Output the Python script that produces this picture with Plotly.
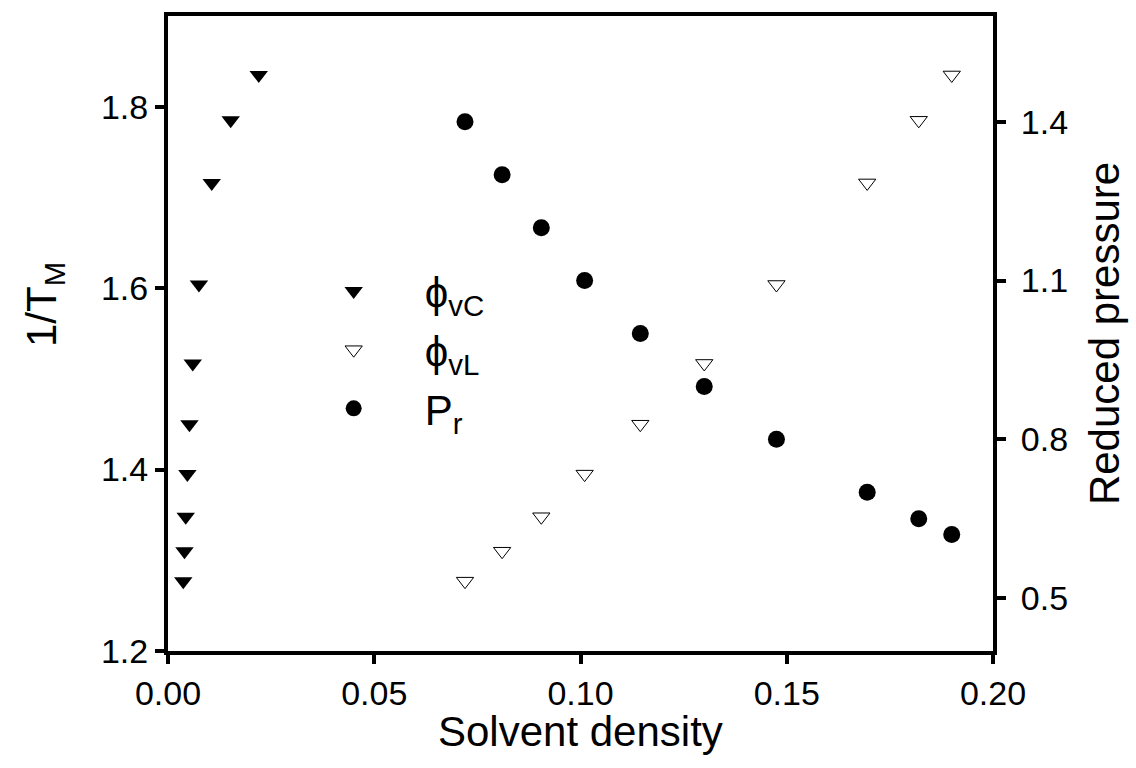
import plotly.graph_objects as go

# Data
phi_vC_x = [0.0037, 0.004, 0.0043, 0.0047, 0.0052, 0.006, 0.0075, 0.0106, 0.0152, 0.022]
inv_TM = [1.277, 1.310, 1.348, 1.395, 1.450, 1.517, 1.604, 1.716, 1.785, 1.835]
phi_vL_x = [0.072, 0.081, 0.0905, 0.101, 0.1145, 0.130, 0.1475, 0.1695, 0.182, 0.190]
rho_x = [0.072, 0.081, 0.0905, 0.101, 0.1145, 0.130, 0.1475, 0.1695, 0.182, 0.190]
P_r = [1.40, 1.30, 1.20, 1.10, 1.00, 0.90, 0.80, 0.70, 0.65, 0.62]

x_ticks = [0.00, 0.05, 0.10, 0.15, 0.20]
x_ticklabels = ["0.00", "0.05", "0.10", "0.15", "0.20"]
y_ticks = [1.2, 1.4, 1.6, 1.8]
y2_ticks = [0.5, 0.8, 1.1, 1.4]

x_title = "Solvent density"
y_title = "1/T<sub>M</sub>"
y2_title = "Reduced pressure"

FONT = "Liberation Sans, Arial, sans-serif"

fig = go.Figure()
fig.add_trace(go.Scatter(
    x=phi_vC_x, y=inv_TM, mode="markers", name="ϕ<sub>vC</sub>",
    marker=dict(symbol="triangle-down", size=16, color="black", line=dict(width=0)),
    legendgroup="a"))
fig.add_trace(go.Scatter(
    x=phi_vL_x, y=inv_TM, mode="markers", name="ϕ<sub>vL</sub>",
    marker=dict(symbol="triangle-down-open", size=15, color="black", line=dict(width=1)),
    legendgroup="b"))
fig.add_trace(go.Scatter(
    x=rho_x, y=P_r, mode="markers", name="P<sub>r</sub>", yaxis="y2",
    marker=dict(symbol="circle", size=17, color="black", line=dict(width=0)),
    legendgroup="c"))

axis_common = dict(showgrid=False, zeroline=False, showline=True, linecolor="black",
                   linewidth=4, ticks="outside", ticklen=9, tickwidth=4, tickcolor="black",
                   tickfont=dict(size=34, color="black", family=FONT))

fig.update_layout(
    width=1136, height=768,
    margin=dict(l=168, r=143, t=16, b=117),
    paper_bgcolor="white", plot_bgcolor="white",
    font=dict(family=FONT, color="black"),
    xaxis=dict(range=[0, 0.2], tickvals=x_ticks, ticktext=x_ticklabels, mirror=True,
               **axis_common),
    yaxis=dict(range=[1.2, 1.9], tickvals=y_ticks, tickformat=".1f",
               **axis_common),
    yaxis2=dict(range=[0.4, 1.6], tickvals=y2_ticks, tickformat=".1f", overlaying="y", side="right",
                ticklabelstandoff=8,
                title=dict(text=y2_title, font=dict(size=42), standoff=24),
                **axis_common),
    showlegend=True,
    legend=dict(x=0.139, y=0.62, xanchor="left", yanchor="top", bgcolor="rgba(0,0,0,0)",
                font=dict(size=42, family=FONT), tracegroupgap=1, itemwidth=132),
    annotations=[
        dict(text=x_title, xref="paper", yref="paper", x=0.5, y=-0.127,
             xanchor="center", yanchor="middle", showarrow=False,
             font=dict(size=42, family=FONT, color="black")),
        dict(text=y_title, xref="paper", yref="paper", x=-0.149, y=0.545,
             xanchor="center", yanchor="middle", showarrow=False, textangle=-90,
             font=dict(size=42, family=FONT, color="black")),
    ],
)

fig.write_html("out.html")
